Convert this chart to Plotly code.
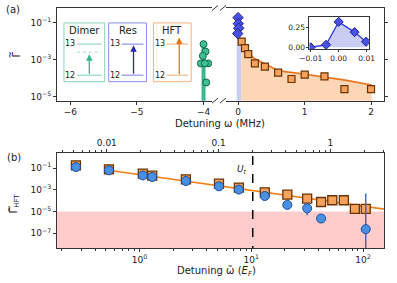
import plotly.graph_objects as go

# ---------------- data: panel (a) ----------------
dimer_w = [-4.00, -3.97, -4.01, -4.04, -3.93, -3.98, -3.96]
dimer_g = [6.9e-3, 2.75e-3, 1.6e-3, 6.3e-4, 6.3e-4, 6.3e-4, 5.9e-5]
dimer_bar_g = [6.9e-3, 1e-7]

res_w = [0.0, 0.005, 0.01, -0.005]
res_g = [0.186, 0.088, 0.050, 0.0257]
res_band_w = [-0.02, -0.02, 0.05, 0.05]
res_band_g = [1e-7, 0.024, 0.024, 1e-7]

hft_w = [0.055, 0.105, 0.154, 0.254, 0.404, 0.603, 0.804, 1.003, 1.30, 1.60, 2.00]
hft_g = [9.5e-3, 4.2e-3, 2.0e-3, 6.3e-4, 4.2e-4, 2.0e-4, 9.1e-5, 1.55e-4, 1.26e-4, 2.6e-5, 2.6e-5]

fit_w = [0.05, 0.115, 0.254, 0.415, 0.614, 0.99, 1.26, 1.61, 2.01]
fit_g = [1.0e-2, 3.0e-3, 1.12e-3, 5.75e-4, 2.5e-4, 1.7e-4, 1.26e-4, 7.9e-5, 4.3e-5]

ins_w = [-0.01, -0.0045, 0.0, 0.0057, 0.0098]
ins_g = [0.0, 0.032, 0.327, 0.195, 0.071]

# ---------------- data: panel (b) ----------------
sq_w = [0.27, 0.533, 1.07, 1.30, 2.60, 5.14, 7.74, 13.2, 21.0, 31.6, 42.1, 53.0, 67.3, 84.4, 105.6]
sq_g = [0.178, 0.076, 0.031, 0.020, 0.0091, 0.0037, 0.0016, 5.9e-4, 3.6e-4, 1.55e-4,
        7.6e-5, 1.1e-4, 1.1e-4, 1.74e-5, 1.74e-5]
ci_w = [0.27, 0.533, 1.07, 1.30, 2.60, 5.14, 7.74, 13.2, 21.0, 31.6, 42.1, 105.6]
ci_g = [0.123, 0.062, 0.021, 0.015, 0.0065, 0.0021, 0.00105, 2.7e-4, 4.1e-5, 2.0e-5, 2.3e-6, 2.4e-7]
ci_hi = [0.123, 0.062, 0.021, 0.015, 0.0065, 0.0021, 0.00105, 2.7e-4, 4.1e-5, 3.5e-5, 2.3e-6, 4.5e-4]
ci_lo = [0.123, 0.062, 0.021, 0.015, 0.0065, 0.0021, 0.00105, 2.7e-4, 4.1e-5, 4.6e-6, 2.3e-6, 1e-10]
fitb_w = [0.53, 200.0]
fitb_g = [0.062, 1.14e-5]
U_t = 10.3
floor_g = 1e-5
top_scale = 51.0

FONT = "DejaVu Sans"
AX = "#333333"

# pixel -> paper helpers (plot area 57..386 x 7..248)
def PX(x):
    return (x - 57) / 329.0

def PY(y):
    return (248 - y) / 241.0

fig = go.Figure()

# ----- panel (a), left segment -----
fig.add_trace(go.Scatter(x=[dimer_w[0], dimer_w[0]], y=dimer_bar_g, mode="lines",
                         line=dict(color="#3ab88a", width=4), xaxis="x", yaxis="y",
                         showlegend=False))
fig.add_trace(go.Scatter(x=dimer_w, y=dimer_g, mode="markers",
                         marker=dict(symbol="circle", size=7, color="#3cc28f",
                                     line=dict(color="#18664a", width=1)),
                         xaxis="x", yaxis="y", showlegend=False))

# ----- panel (a), right segment -----
fig.add_trace(go.Scatter(x=res_band_w, y=res_band_g, mode="lines", fill="toself",
                         fillcolor="#c9cdf4", line=dict(width=0), xaxis="x2", yaxis="y2",
                         showlegend=False))
fig.add_trace(go.Scatter(x=fit_w + [fit_w[-1], fit_w[0]], y=fit_g + [1e-7, 1e-7],
                         mode="lines", fill="toself", fillcolor="#fdd6b5",
                         line=dict(width=0), xaxis="x2", yaxis="y2", showlegend=False))
fig.add_trace(go.Scatter(x=fit_w, y=fit_g, mode="lines",
                         line=dict(color="#e8731a", width=1.6), xaxis="x2", yaxis="y2",
                         showlegend=False))
fig.add_trace(go.Scatter(x=hft_w, y=hft_g, mode="markers",
                         marker=dict(symbol="square", size=7, color="#f5a25d",
                                     line=dict(color="#6b3300", width=1.2)),
                         xaxis="x2", yaxis="y2", showlegend=False))
fig.add_trace(go.Scatter(x=res_w, y=res_g, mode="markers",
                         marker=dict(symbol="diamond", size=8, color="#4a50e0",
                                     line=dict(color="#1e2290", width=1)),
                         xaxis="x2", yaxis="y2", showlegend=False))

# ----- inset -----
fig.add_trace(go.Scatter(x=ins_w, y=ins_g, mode="lines", fill="tozeroy",
                         fillcolor="#c9cdf4", line=dict(color="#2b35e0", width=1.3),
                         xaxis="x5", yaxis="y5", showlegend=False))
fig.add_trace(go.Scatter(x=ins_w, y=ins_g, mode="markers",
                         marker=dict(symbol="diamond", size=7, color="#4a50e0",
                                     line=dict(color="#1e2290", width=1)),
                         xaxis="x5", yaxis="y5", showlegend=False))

# ----- panel (b) -----
fig.add_trace(go.Scatter(x=fitb_w, y=fitb_g, mode="lines",
                         line=dict(color="#f07f1a", width=1.6), xaxis="x3", yaxis="y3",
                         showlegend=False))
fig.add_trace(go.Scatter(x=[U_t, U_t], y=[1e-9, 10], mode="lines",
                         line=dict(color="black", width=1.5, dash="dash"),
                         xaxis="x3", yaxis="y3", showlegend=False))
fig.add_trace(go.Scatter(x=sq_w, y=sq_g, mode="markers",
                         marker=dict(symbol="square", size=9, color="#f5a25d",
                                     line=dict(color="#6b3300", width=1.3)),
                         xaxis="x3", yaxis="y3", showlegend=False))
fig.add_trace(go.Scatter(x=ci_w, y=ci_g, mode="markers",
                         marker=dict(symbol="circle", size=9, color="#4a90e2",
                                     line=dict(color="#1c4f9c", width=1)),
                         error_y=dict(type="data", symmetric=False,
                                      array=[h - g for h, g in zip(ci_hi, ci_g)],
                                      arrayminus=[g - l for g, l in zip(ci_g, ci_lo)],
                                      color="#3a6fc0", thickness=1.5, width=0),
                         xaxis="x3", yaxis="y3", showlegend=False))
fig.add_trace(go.Scatter(x=[], y=[], xaxis="x4", yaxis="y3", showlegend=False))


def sup(e):
    return "10<sup>" + str(e).replace("-", "\u2212") + "</sup>"


common = dict(showline=True, linecolor=AX, linewidth=1, ticks="outside", ticklen=3,
              tickcolor=AX, tickwidth=1, showgrid=False, zeroline=False,
              tickfont=dict(family=FONT, size=9, color="#222"))

minor_bottom = [v * 10 ** k for k in (-1, 0, 1, 2) for v in range(2, 10)]
minor_top = [v * 10 ** k for k in (-3, -2, -1, 0) for v in range(2, 10)]

fig.update_layout(
    width=397, height=283,
    margin=dict(l=57, r=11, t=7, b=35),
    paper_bgcolor="white", plot_bgcolor="white",
    font=dict(family=FONT, size=9, color="#222"),
    xaxis=dict(domain=[0, 0.474], range=[-6.2, -3.873], anchor="y", mirror=True,
               tickvals=[-6, -5, -4], ticktext=["\u22126", "\u22125", "\u22124"], **common),
    yaxis=dict(domain=[0.614, 1], type="log", range=[-5.21, -0.21], anchor="x",
               tickvals=[1e-1, 1e-3, 1e-5], ticktext=[sup(-1), sup(-3), sup(-5)], **common),
    xaxis2=dict(domain=[0.517, 1], range=[-0.18, 2.195], anchor="y2", mirror=True,
                tickvals=[0, 1, 2], ticktext=["0", "1", "2"], **common),
    yaxis2=dict(domain=[0.614, 1], type="log", range=[-5.21, -0.21], anchor="x2",
                side="right", tickvals=[1e-1, 1e-3, 1e-5], showticklabels=False, **common),
    xaxis3=dict(domain=[0, 1], type="log", range=[-0.738, 2.187], anchor="y3", mirror=True,
                tickvals=[1, 10, 100], ticktext=[sup(0), sup(1), sup(2)],
                minor=dict(tickvals=minor_bottom, ticks="outside", ticklen=2, tickcolor=AX),
                **common),
    xaxis4=dict(type="log", overlaying="x3", side="top", anchor="y3",
                range=[-0.738 - 1.70757, 2.187 - 1.70757],
                tickvals=[0.01, 0.1, 1], ticktext=["0.01", "0.1", "1"],
                minor=dict(tickvals=minor_top, ticks="outside", ticklen=2, tickcolor=AX),
                **common),
    yaxis3=dict(domain=[0, 0.394], type="log", range=[-8.35, 0.345], anchor="x3", mirror=True,
                tickvals=[1e-1, 1e-3, 1e-5, 1e-7],
                ticktext=[sup(-1), sup(-3), sup(-5), sup(-7)], **common),
    xaxis5=dict(domain=[0.772, 0.954], range=[-0.01046, 0.01085], anchor="y5", mirror=True,
                tickvals=[-0.01, 0.0, 0.01], ticktext=["\u22120.01", "0.00", "0.01"],
                **{**common, "ticklen": 2, "tickfont": dict(family=FONT, size=7.5, color="#222")}),
    yaxis5=dict(domain=[0.829, 0.963], range=[-0.023, 0.391], anchor="x5", mirror=True,
                tickvals=[0.0, 0.25], ticktext=["0.00", "0.25"],
                **{**common, "ticklen": 2, "tickfont": dict(family=FONT, size=7.5, color="#222")}),
)

shapes = []
# pink excluded region in (b)
shapes.append(dict(type="rect", xref="x3 domain", yref="y3", x0=0, x1=1, y0=1e-9, y1=floor_g,
                   fillcolor="#ffcccc", line=dict(width=0), layer="below"))
# broken-axis marks
for yy in (7, 100):
    for cx in (216, 224):
        shapes.append(dict(type="line", xref="paper", yref="paper",
                           x0=PX(cx - 3), y0=PY(yy + 2.5), x1=PX(cx + 3), y1=PY(yy - 2.5),
                           line=dict(color=AX, width=1)))

annotations = []


def add_text(x, y, text, size=10, angle=0, xanchor="center", color="#222"):
    annotations.append(dict(x=PX(x), y=PY(y), xref="paper", yref="paper", text=text,
                            showarrow=False, textangle=angle, xanchor=xanchor,
                            yanchor="middle", font=dict(family=FONT, size=size, color=color)))


# level-scheme boxes
boxes = [
    ("Dimer", 64, 105, "#86d3b7", "#a8e0cb", "#34b487", 89.5, 53.5),
    ("Res", 109, 147, "#8a8ee0", "#a5a8e8", "#2626a8", 134, 44.5),
    ("HFT", 154, 192, "#f5b07a", "#f8c9a1", "#e8731a", 180, 36.5),
]
for name, bx0, bx1, edge, lvl, arr, axx, head in boxes:
    shapes.append(dict(type="rect", xref="paper", yref="paper", x0=PX(bx0), x1=PX(bx1),
                       y0=PY(81), y1=PY(22), line=dict(color=edge, width=1)))
    add_text((bx0 + bx1) / 2, 29.5, name, size=10)
    for ly in (43.3, 74.5):
        shapes.append(dict(type="line", xref="paper", yref="paper", x0=PX(bx0 + 13),
                           x1=PX(bx1 - 3), y0=PY(ly), y1=PY(ly), line=dict(color=lvl, width=1.5)))
    add_text(bx0 + 6.5, 42.5, "13", size=8)
    add_text(bx0 + 6.5, 74.5, "12", size=8)
    annotations.append(dict(x=PX(axx), y=PY(head), xref="paper", yref="paper", text="",
                            showarrow=True, ax=0, ay=74.5 - head, axref="pixel", ayref="pixel",
                            arrowhead=2, arrowsize=1, arrowwidth=1.3, arrowcolor=arr,
                            standoff=0))
# dimer bound-state level
shapes.append(dict(type="line", xref="paper", yref="paper", x0=PX(77), x1=PX(102),
                   y0=PY(51.5), y1=PY(51.5), line=dict(color="#bfe8d8", width=1.5, dash="dot")))

# labels and titles
add_text(13, 8.5, "(a)", size=10)
add_text(14, 157, "(b)", size=10)
add_text(221, 123, "Detuning \u03c9 (MHz)", size=10)
add_text(217, 272, "Detuning \u03c9\u0303 (<i>E</i><sub><i>F</i></sub>)", size=10)
# y titles: Gamma with a tilde (tilde drawn as its own rotated glyph)
add_text(16.5, 54, "\u0393", size=10, angle=-90)
add_text(9.5, 54, "~", size=9, angle=-90)
add_text(14, 203, "\u0393<sub>HFT</sub>", size=10, angle=-90)
add_text(9, 208, "~", size=9, angle=-90)
add_text(243.5, 169, "<i>U</i><sub><i>t</i></sub>", size=9)

fig.update_layout(shapes=shapes, annotations=annotations)
fig.write_html("out.html", post_script="document.body.style.margin='0px';",
               config={"displayModeBar": False})
